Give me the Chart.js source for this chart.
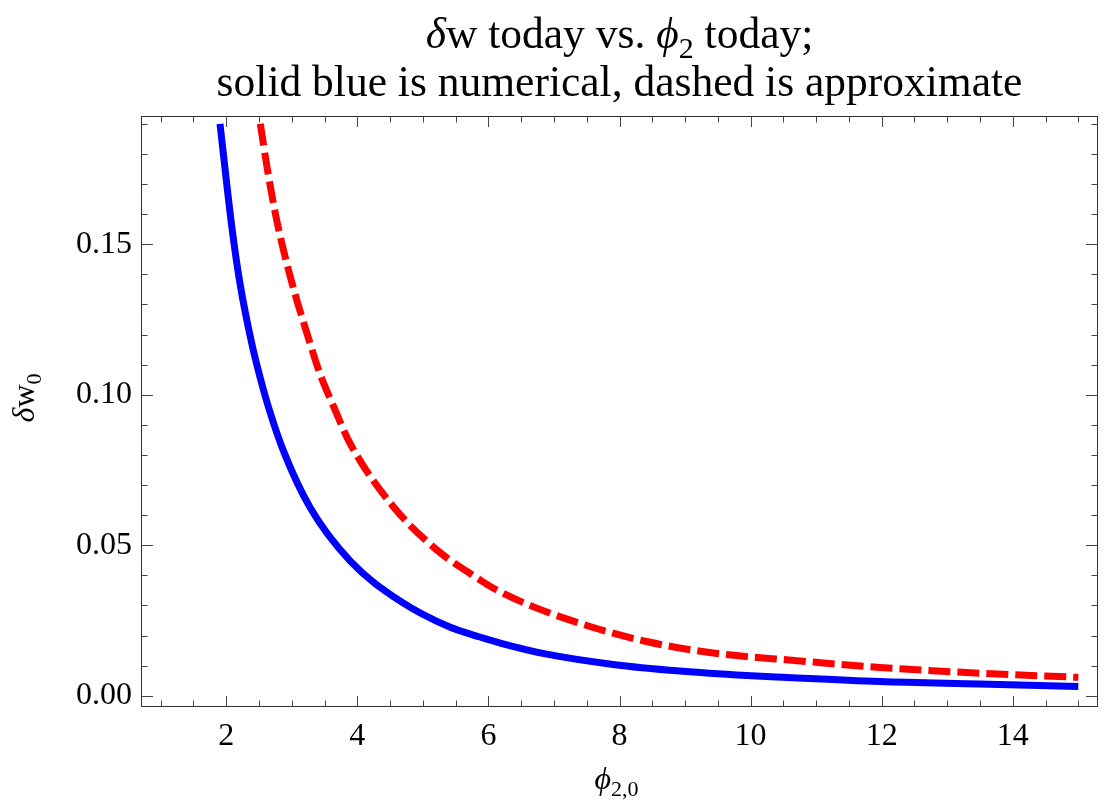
<!DOCTYPE html>
<html>
<head>
<meta charset="utf-8">
<script src="https://cdn.jsdelivr.net/npm/chart.js@4.4.1/dist/chart.umd.min.js"></script>
<style>
  html, body { margin: 0; padding: 0; background: #fff; }
</style>
</head>
<body>
<canvas id="myChart" width="1108" height="810"></canvas>
<script>
// values
const numericalX = [1.905, 2.09, 2.21, 2.39, 2.52, 2.65, 2.87, 3.28, 3.89, 4.65, 5.41, 5.87, 6.18, 6.89, 7.90, 8.92, 9.94, 10.5, 11.97, 13.49, 15.0];
const numericalY = [0.190, 0.155, 0.137, 0.117, 0.1055, 0.0955, 0.0815, 0.0625, 0.0448, 0.0315, 0.0228, 0.0195, 0.0175, 0.0138, 0.0104, 0.0082, 0.0067, 0.0061, 0.0047, 0.0039, 0.0031];

const approxX = [2.52, 2.62, 2.77, 2.98, 3.28, 3.43, 3.64, 3.89, 4.55, 5.21, 5.87, 6.12, 6.68, 7.55, 8.41, 9.43, 10.67, 11.97, 13.49, 15.0];
const approxY = [0.190, 0.176, 0.158, 0.139, 0.117, 0.107, 0.096, 0.0838, 0.0628, 0.0485, 0.0385, 0.0352, 0.0296, 0.0230, 0.0180, 0.0142, 0.0117, 0.0094, 0.0075, 0.0061];

const xTickValues = [2, 4, 6, 8, 10, 12, 14];
const xTickLabels = ['2', '4', '6', '8', '10', '12', '14'];
const yTickValues = [0, 0.05, 0.10, 0.15];
const yTickLabels = ['0.00', '0.05', '0.10', '0.15'];

const serif = '"Liberation Serif", "Times New Roman", "DejaVu Serif", serif';

window.onload = preparePage;

function toPoints(xs, ys) {
  return xs.map((x, i) => ({ x: x, y: ys[i] }));
}

// draws a line of text made of pieces (italic / subscript), centred on cx
function drawRich(ctx, parts, cx, y, size) {
  const fontOf = p => (p.italic ? 'italic ' : '') + (p.sub ? Math.round(size * 0.7) : size) + 'px ' + serif;
  let total = 0;
  parts.forEach(p => { ctx.font = fontOf(p); total += ctx.measureText(p.t).width; });
  let x = cx - total / 2;
  parts.forEach(p => {
    ctx.font = fontOf(p);
    ctx.fillText(p.t, x, y + (p.sub ? size * 0.22 : 0));
    x += ctx.measureText(p.t).width;
  });
}

const framePlugin = {
  id: 'mmaFrame',
  afterDraw(chart) {
    const ctx = chart.ctx;
    const a = chart.chartArea;
    const xs = chart.scales.x, ys = chart.scales.y;
    ctx.save();

    // frame
    ctx.strokeStyle = '#333';
    ctx.lineWidth = 1;
    ctx.strokeRect(a.left + 0.5, a.top + 0.5, a.right - a.left - 1, a.bottom - a.top - 1);

    // ticks pointing in, on all four sides
    ctx.strokeStyle = '#444';
    ctx.beginPath();
    for (let v = 1; v <= 15.001; v += 0.5) {
      const major = xTickValues.some(t => Math.abs(t - v) < 1e-6);
      const len = major ? 11 : 6.5;
      const px = Math.round(xs.getPixelForValue(v)) + 0.5;
      ctx.moveTo(px, a.bottom); ctx.lineTo(px, a.bottom - len);
      ctx.moveTo(px, a.top); ctx.lineTo(px, a.top + len);
    }
    for (let k = 0; k <= 19; k++) {
      const v = k / 100;
      const major = k % 5 === 0;
      const len = major ? 12 : 6.5;
      const py = Math.round(ys.getPixelForValue(v)) + 0.5;
      ctx.moveTo(a.left, py); ctx.lineTo(a.left + len, py);
      ctx.moveTo(a.right, py); ctx.lineTo(a.right - len, py);
    }
    ctx.stroke();

    // titles
    ctx.fillStyle = '#000';
    ctx.textBaseline = 'alphabetic';
    ctx.textAlign = 'left';
    const cx = (a.left + a.right) / 2;
    drawRich(ctx, [
      { t: 'δ', italic: true }, { t: 'w today vs. ' },
      { t: 'ϕ', italic: true }, { t: '2', sub: true }, { t: ' today;' }
    ], cx, 48, 43.5);
    drawRich(ctx, [{ t: 'solid blue is numerical, dashed is approximate' }], cx, 96, 43.5);

    // x axis title
    drawRich(ctx, [{ t: 'ϕ', italic: true }, { t: '2,0', sub: true }], cx - 3, 789, 32);

    // y axis title, rotated
    ctx.translate(34, 398);
    ctx.rotate(-Math.PI / 2);
    drawRich(ctx, [{ t: 'δ', italic: true }, { t: 'w' }, { t: '0', sub: true }], 0, 0, 32);
    ctx.restore();
  }
};

function preparePage() {
  const ctx = document.getElementById('myChart').getContext('2d');
  const myChart = new Chart(ctx, {
    type: 'line',
    data: {
      datasets: [{
        label: 'numerical',
        data: toPoints(numericalX, numericalY),
        borderColor: '#0000ff',
        borderWidth: 7,
        borderCapStyle: 'butt',
        pointRadius: 0,
        fill: false,
        cubicInterpolationMode: 'monotone'
      }, {
        label: 'approximate',
        data: toPoints(approxX, approxY),
        borderColor: '#ff0000',
        borderWidth: 7,
        borderDash: [22, 7],
        borderCapStyle: 'butt',
        pointRadius: 0,
        fill: false,
        cubicInterpolationMode: 'monotone'
      }]
    },
    options: {
      responsive: false,
      animation: false,
      layout: { padding: { top: 116, left: 0, right: 10, bottom: 0 } },
      plugins: { legend: { display: false }, tooltip: { enabled: false } },
      scales: {
        x: {
          type: 'linear',
          min: 0.7,
          max: 15.3,
          grid: { display: false, drawTicks: false },
          border: { display: false },
          afterBuildTicks: s => { s.ticks = xTickValues.map(v => ({ value: v })); },
          afterFit: s => { s.height = 103; },
          ticks: {
            autoSkip: false,
            maxRotation: 0,
            padding: 10,
            color: '#000',
            font: { family: serif, size: 32 },
            callback: v => xTickLabels[xTickValues.indexOf(v)]
          }
        },
        y: {
          type: 'linear',
          min: -0.00375,
          max: 0.1926,
          grid: { display: false, drawTicks: false },
          border: { display: false },
          afterBuildTicks: s => { s.ticks = yTickValues.map(v => ({ value: v })); },
          afterFit: s => { s.width = 141; },
          ticks: {
            autoSkip: false,
            padding: 9,
            color: '#000',
            font: { family: serif, size: 32 },
            callback: v => yTickLabels[yTickValues.indexOf(v)]
          }
        }
      }
    },
    plugins: [framePlugin]
  });
}
</script>
</body>
</html>
